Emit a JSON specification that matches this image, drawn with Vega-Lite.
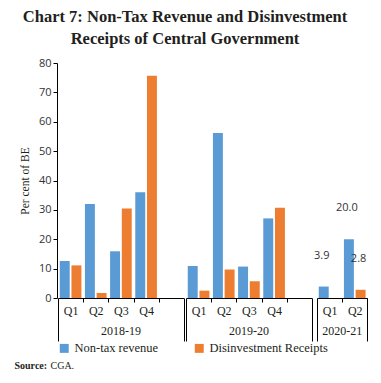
{
  "$schema": "https://vega.github.io/schema/vega-lite/v6.json",
  "padding": {"left": 14, "top": 8, "right": 5, "bottom": 5},
  "background": "white",
  "title": {
    "text": ["Chart 7: Non-Tax Revenue and Disinvestment", "Receipts of Central Government"],
    "font": "Liberation Serif",
    "fontSize": 16.5,
    "fontWeight": "bold",
    "color": "#231f20",
    "anchor": "middle",
    "lineHeight": 22,
    "offset": 10,
    "dx": -6
  },
  "spacing": 5,
  "resolve": {"legend": {"color": "independent"}},
  "vconcat": [
    {
      "data": {
        "values": [
          {"year": "2018-19", "quarter": "Q1", "series": "Non-tax revenue", "value": 12.6},
          {"year": "2018-19", "quarter": "Q1", "series": "Disinvestment Receipts", "value": 11.1},
          {"year": "2018-19", "quarter": "Q2", "series": "Non-tax revenue", "value": 32.0},
          {"year": "2018-19", "quarter": "Q2", "series": "Disinvestment Receipts", "value": 1.7},
          {"year": "2018-19", "quarter": "Q3", "series": "Non-tax revenue", "value": 15.9},
          {"year": "2018-19", "quarter": "Q3", "series": "Disinvestment Receipts", "value": 30.5},
          {"year": "2018-19", "quarter": "Q4", "series": "Non-tax revenue", "value": 36.0},
          {"year": "2018-19", "quarter": "Q4", "series": "Disinvestment Receipts", "value": 75.7},
          {"year": "2018-19", "quarter": " ", "series": "Non-tax revenue", "value": 0},
          {"year": "2019-20", "quarter": "Q1", "series": "Non-tax revenue", "value": 10.9},
          {"year": "2019-20", "quarter": "Q1", "series": "Disinvestment Receipts", "value": 2.5},
          {"year": "2019-20", "quarter": "Q2", "series": "Non-tax revenue", "value": 56.2},
          {"year": "2019-20", "quarter": "Q2", "series": "Disinvestment Receipts", "value": 9.7},
          {"year": "2019-20", "quarter": "Q3", "series": "Non-tax revenue", "value": 10.7},
          {"year": "2019-20", "quarter": "Q3", "series": "Disinvestment Receipts", "value": 5.7},
          {"year": "2019-20", "quarter": "Q4", "series": "Non-tax revenue", "value": 27.1},
          {"year": "2019-20", "quarter": "Q4", "series": "Disinvestment Receipts", "value": 30.7},
          {"year": "2019-20", "quarter": " ", "series": "Non-tax revenue", "value": 0},
          {"year": "2020-21", "quarter": "Q1", "series": "Non-tax revenue", "value": 3.9},
          {"year": "2020-21", "quarter": "Q2", "series": "Non-tax revenue", "value": 20.0},
          {"year": "2020-21", "quarter": "Q2", "series": "Disinvestment Receipts", "value": 2.8}
        ]
      },
      "facet": {
        "column": {
          "field": "year",
          "type": "ordinal",
          "title": null,
          "header": {
            "labelOrient": "bottom",
            "labelFont": "Liberation Serif",
            "labelFontSize": 12,
            "labelColor": "#231f20",
            "labelPadding": -16
          }
        }
      },
      "spacing": 0,
      "resolve": {"scale": {"x": "independent"}},
      "spec": {
        "width": {"step": 11.707},
        "height": 235,
        "encoding": {
          "x": {
            "field": "quarter",
            "type": "nominal",
            "sort": ["Q1", "Q2", "Q3", "Q4", " "],
            "scale": {"paddingInner": 0, "paddingOuter": 0},
            "axis": {
              "title": null,
              "labelAngle": 0,
              "tickBand": "extent",
              "tickSize": {"condition": {"test": "datum.index === -1 || datum.index === 1", "value": 43}, "value": 4},
              "labelPadding": {"condition": {"test": "datum.index === -1 || datum.index === 1", "value": -36}, "value": 3},
              "labelFont": "Liberation Serif",
              "labelFontSize": 12,
              "labelColor": "#231f20",
              "domainColor": "#000000",
              "tickColor": "#000000"
            }
          },
          "xOffset": {
            "field": "series",
            "sort": ["Non-tax revenue", "Disinvestment Receipts"],
            "scale": {"paddingInner": 0.15, "paddingOuter": 0.15}
          },
          "y": {
            "field": "value",
            "type": "quantitative",
            "scale": {"domain": [0, 80], "nice": false},
            "axis": {
              "title": "Per cent of BE",
              "values": [0, 10, 20, 30, 40, 50, 60, 70, 80],
              "grid": false,
              "tickSize": 4,
              "labelFont": "Open Sans",
              "labelFontSize": 11,
              "labelColor": "#333333",
              "titleFont": "Liberation Serif",
              "titleFontSize": 11.5,
              "titleFontWeight": "normal",
              "titleColor": "#231f20",
              "titlePadding": 8,
              "domainColor": "#000000",
              "tickColor": "#000000"
            }
          }
        },
        "layer": [
          {
            "mark": {"type": "bar"},
            "encoding": {
              "color": {
                "field": "series",
                "type": "nominal",
                "sort": ["Non-tax revenue", "Disinvestment Receipts"],
                "scale": {"range": ["#5B9BD5", "#ED7D31"]},
                "legend": {
                  "orient": "bottom",
                  "direction": "horizontal",
                  "title": null,
                  "symbolType": "square",
                  "symbolSize": 80,
                  "labelFont": "Liberation Serif",
                  "labelFontSize": 12.5,
                  "labelColor": "#231f20",
                  "columnPadding": 34,
                  "offset": 0
                }
              }
            }
          },
          {
            "transform": [{"filter": "datum.year === '2020-21'"}],
            "mark": {"type": "text", "dy": -31, "dx": -2, "font": "Open Sans", "fontSize": 11, "color": "#333333"},
            "encoding": {
              "text": {"field": "value", "type": "quantitative", "format": ".1f"}
            }
          }
        ]
      }
    },
    {
      "width": 1,
      "height": 12,
      "data": {"values": [{"label": "Source:", "note": "CGA."}]},
      "layer": [
        {
          "mark": {"type": "text", "align": "left", "baseline": "middle", "font": "Liberation Serif", "fontSize": 10, "fontWeight": "bold", "color": "#231f20", "dx": -44},
          "encoding": {"text": {"field": "label"}}
        },
        {
          "mark": {"type": "text", "align": "left", "baseline": "middle", "font": "Liberation Serif", "fontSize": 10, "color": "#231f20", "dx": -8},
          "encoding": {"text": {"field": "note"}}
        }
      ]
    }
  ],
  "config": {
    "view": {"stroke": null},
    "axis": {"grid": false}
  }
}
